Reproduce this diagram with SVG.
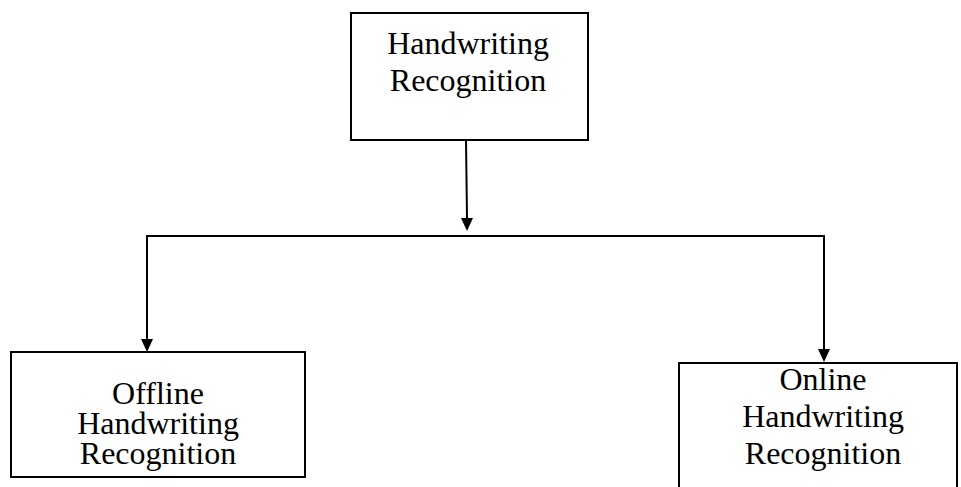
<svg xmlns="http://www.w3.org/2000/svg" width="961" height="487" viewBox="0 0 961 487">
  <style>
    .box { fill: #ffffff; stroke: #000000; stroke-width: 2; }
    .wire { fill: none; stroke: #000000; stroke-width: 2; }
    .head { fill: #000000; }
    .label { font-family: "Liberation Serif", "Times New Roman", serif; font-size: 32px; fill: #000000; text-anchor: middle; }
  </style>
  <rect width="961" height="487" fill="#ffffff"/>

  <g id="connectors">
    <!-- trunk from the root node down to the bus -->
    <path class="wire" d="M466,140 L467,218"/>
    <path class="head" d="M461,218 L473,218 L467,231 Z"/>
    <!-- horizontal bus -->
    <path class="wire" d="M147,236 L824,236"/>
    <!-- branch to the offline node -->
    <path class="wire" d="M147,235 L147,340"/>
    <path class="head" d="M141,339 L153,339 L147,352 Z"/>
    <!-- branch to the online node -->
    <path class="wire" d="M824,235 L824,350"/>
    <path class="head" d="M818,349 L830,349 L824,362 Z"/>
  </g>

  <g id="node-handwriting">
    <rect class="box" x="351" y="13" width="237" height="127"/>
    <text class="label" x="468" y="54">Handwriting</text>
    <text class="label" x="468" y="91">Recognition</text>
  </g>

  <g id="node-offline">
    <rect class="box" x="11" y="352" width="294" height="125"/>
    <text class="label" x="158" y="404">Offline</text>
    <text class="label" x="158" y="434">Handwriting</text>
    <text class="label" x="158" y="464">Recognition</text>
  </g>

  <g id="node-online">
    <rect class="box" x="679" y="363" width="278" height="140"/>
    <text class="label" x="823" y="390">Online</text>
    <text class="label" x="823" y="427">Handwriting</text>
    <text class="label" x="823" y="464">Recognition</text>
  </g>
</svg>
